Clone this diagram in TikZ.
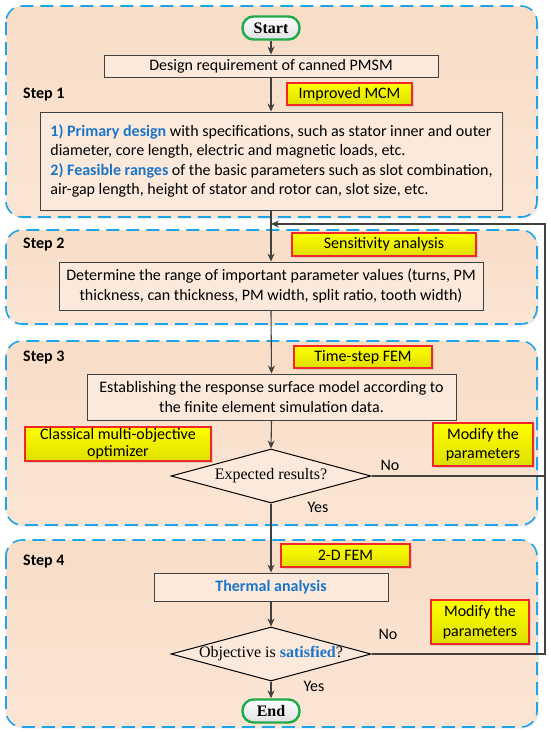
\documentclass[tikz,border=0pt]{standalone}
\usepackage{fontspec}
\setmainfont{Carlito}
\newfontfamily\tnr{Liberation Serif}
\usetikzlibrary{shapes.geometric,shadows,arrows.meta}
\definecolor{panelfill}{RGB}{250,229,212}
\definecolor{paneltop}{RGB}{248,221,199}
\definecolor{dashblue}{RGB}{30,165,232}
\definecolor{boxline}{RGB}{64,64,64}
\definecolor{boxfill}{RGB}{251,233,220}
\definecolor{hlred}{RGB}{240,40,40}
\definecolor{hlyel}{RGB}{255,255,0}
\definecolor{hlyeltwo}{RGB}{222,222,0}
\definecolor{txtblue}{RGB}{28,117,200}
\definecolor{startgreen}{RGB}{30,170,75}
\begin{document}
\begin{tikzpicture}[x=1pt,y=-1pt,
  font=\fontsize{16}{19.5}\selectfont,
  panel/.style={draw=dashblue, line width=1.6pt, dash pattern=on 13pt off 7pt,
    rounded corners=16pt, top color=paneltop, bottom color=panelfill,
    drop shadow={shadow xshift=1.5pt,shadow yshift=-1.5pt,opacity=0.18}},
  box/.style={draw=boxline, line width=0.9pt, fill=boxfill, inner sep=0pt, align=center,
    drop shadow={shadow xshift=1pt,shadow yshift=-1pt,opacity=0.15}},
  hl/.style={draw=hlred, line width=1.2pt, top color=hlyel, bottom color=hlyeltwo,
    inner sep=0pt, align=center,
    drop shadow={shadow xshift=2pt,shadow yshift=-2pt,opacity=0.25}},
  term/.style={draw=startgreen, line width=2.4pt, rounded corners=11pt,
    top color=white, bottom color=black!12, inner sep=0pt,
    minimum width=57pt, minimum height=23pt, font=\tnr\bfseries\fontsize{16}{18}\selectfont},
  decide/.style={diamond, draw=black, line width=1pt, fill=boxfill, inner sep=0pt,
    aspect=3.7, minimum width=200pt, minimum height=54pt},
  steplabel/.style={anchor=west, inner sep=0pt, font=\bfseries\fontsize{16}{18}\selectfont},
  arr/.style={draw=boxline, line width=1.1pt, -{Stealth[length=8pt,width=7pt]}},
  plain/.style={draw=boxline, line width=1.1pt},
  ynlabel/.style={inner sep=0pt}
]
\useasboundingbox (0,0) rectangle (550,732);

% panels
\path[panel] (6,6) rectangle (537,217);
\path[panel] (6,230) rectangle (537,324);
\path[panel] (6,341) rectangle (537,525);
\path[panel] (6,540) rectangle (537,727);

% step labels
\node[steplabel] (s1) at (23,95) {Step 1};
\node[steplabel] (s2) at (23,245) {Step 2};
\node[steplabel] (s3) at (23,358) {Step 3};
\node[steplabel] (s4) at (23,562) {Step 4};

% step 1
\node[term] (start) at (271,28) {Start};
\node[box, minimum width=334pt, minimum height=22pt] (design) at (271,66) {Design requirement of canned PMSM};
\node[hl, minimum width=125pt, minimum height=22pt] (mcm) at (349.5,94) {Improved MCM};
\node[box, minimum width=462pt, minimum height=98pt, align=left] (big) at (271.5,161)
 {{\color{txtblue}\bfseries 1) Primary design} with specifications, such as stator inner and outer\\
  diameter, core length, electric and magnetic loads, etc.\\
  {\color{txtblue}\bfseries 2) Feasible ranges} of the basic parameters such as slot combination,\\
  air-gap length, height of stator and rotor can, slot size, etc.};

% step 2
\node[hl, minimum width=184pt, minimum height=23pt] (sens) at (384,244.5) {Sensitivity analysis};
\node[box, minimum width=424pt, minimum height=48pt] (det) at (271,286)
 {Determine the range of important parameter values (turns, PM\\ thickness, can thickness, PM width, split ratio, tooth width)};

% step 3
\node[hl, minimum width=138pt, minimum height=22pt] (tsfem) at (363,357) {Time-step FEM};
\node[box, minimum width=369pt, minimum height=46pt] (est) at (271.5,397)
 {Establishing the response surface model according to\\ the finite element simulation data.};
\node[hl, minimum width=186pt, minimum height=34pt, font=\fontsize{16}{17}\selectfont] (classic) at (118,444)
 {Classical multi-objective\\ optimizer};
\node[hl, minimum width=100pt, minimum height=43pt] (mod1) at (483,444.5) {Modify the\\ parameters};
\node[decide] (dia1) at (271,476) {\makebox[0pt]{\tnr\fontsize{16}{18}\selectfont Expected results?}};

% step 4
\node[hl, minimum width=129pt, minimum height=23pt] (fem2d) at (345.5,555.5) {2-D FEM};
\node[box, minimum width=234pt, minimum height=28pt] (thermal) at (271,587)
 {\color{txtblue}\bfseries Thermal analysis};
\node[hl, minimum width=98pt, minimum height=44pt] (mod2) at (480,622) {Modify the\\ parameters};
\node[decide] (dia2) at (271,654) {\makebox[0pt]{\tnr\fontsize{16}{18}\selectfont Objective is {\color{txtblue}\bfseries satisfied}?}};
\node[term] (end) at (271,711) {End};

% yes / no labels
\node[ynlabel] (no1) at (390,465) {No};
\node[ynlabel] (yes1) at (318,507) {Yes};
\node[ynlabel] (no2) at (388,634) {No};
\node[ynlabel] (yes2) at (314,686) {Yes};

% connectors
\coordinate (rt) at (545,224);
\coordinate (jn) at (271,224);
\draw[arr] (start.south) -- (design.north);
\draw[arr] (design.south) -- (design.south |- big.north);
\draw[arr] (design.south |- big.south) -- (det.north);
\draw[arr] (det.south) -- (est.north);
\draw[arr] (est.south) -- (dia1.north);
\draw[arr] (dia1.south) -- (thermal.north);
\draw[arr] (thermal.south) -- (dia2.north);
\draw[arr] (dia2.south) -- (end.north);
\draw[plain] (dia1.east) -- (dia1.east -| rt);
\draw[arr] (dia2.east) -| (rt) -- (jn);
\end{tikzpicture}
\end{document}
